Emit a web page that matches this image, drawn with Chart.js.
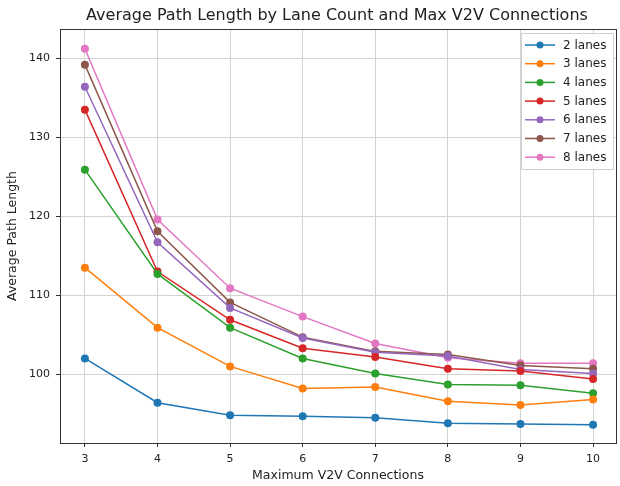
<!DOCTYPE html>
<html>
<head>
<meta charset="utf-8">
<script src="https://cdn.jsdelivr.net/npm/chart.js@4/dist/chart.umd.min.js"></script>
<style>
html,body{margin:0;padding:0;background:#fff;}
#wrap{width:620px;height:486px;position:relative;}
</style>
</head>
<body>
<div id="wrap"><canvas id="c" width="620" height="486"></canvas></div>
<script>
const connections = [3, 4, 5, 6, 7, 8, 9, 10];
const laneLabels = ['2 lanes', '3 lanes', '4 lanes', '5 lanes', '6 lanes', '7 lanes', '8 lanes'];
const lanes2 = [102.0, 96.4, 94.8, 94.7, 94.5, 93.8, 93.7, 93.6];
const lanes3 = [113.5, 105.9, 101.0, 98.2, 98.4, 96.6, 96.1, 96.8];
const lanes4 = [125.9, 112.7, 105.9, 102.0, 100.1, 98.7, 98.6, 97.6];
const lanes5 = [133.5, 113.0, 106.9, 103.3, 102.2, 100.7, 100.4, 99.4];
const lanes6 = [136.4, 116.7, 108.4, 104.6, 102.8, 102.3, 100.6, 100.1];
const lanes7 = [139.2, 118.1, 109.1, 104.7, 102.9, 102.5, 101.1, 100.7];
const lanes8 = [141.2, 119.6, 110.9, 107.3, 103.9, 102.1, 101.4, 101.4];
const yTicks = [100, 110, 120, 130, 140];
const colors = ['#1f77b4', '#ff7f0e', '#2ca02c', '#d62728', '#9467bd', '#8c564b', '#e377c2'];
const seriesValues = [lanes2, lanes3, lanes4, lanes5, lanes6, lanes7, lanes8];

const FONT = "'DejaVu Sans', sans-serif";

const datasets = seriesValues.map((vals, i) => ({
  label: laneLabels[i],
  data: vals.map((v, j) => ({x: connections[j], y: v})),
  borderColor: colors[i],
  backgroundColor: colors[i],
  pointBackgroundColor: colors[i],
  pointBorderColor: colors[i],
  borderWidth: 1.5,
  pointRadius: 4,
  pointBorderWidth: 0,
  tension: 0
}));

const framePlugin = {
  id: 'frame',
  afterDraw(chart) {
    const {ctx, chartArea: a} = chart;
    ctx.save();
    // spines
    ctx.strokeStyle = '#333';
    ctx.lineWidth = 1;
    ctx.strokeRect(Math.round(a.left) + 0.5, Math.round(a.top) + 0.5, Math.round(a.right - a.left), Math.round(a.bottom - a.top));
    // title
    ctx.fillStyle = '#222';
    ctx.font = "16px " + FONT;
    ctx.textAlign = 'center';
    ctx.textBaseline = 'middle';
    ctx.fillText('Average Path Length by Lane Count and Max V2V Connections', 337, 16);
    // legend
    const bx = 521, by = 33, bw = 92, bh = 136;
    ctx.fillStyle = 'rgba(255,255,255,0.85)';
    ctx.strokeStyle = '#d0d0d0';
    ctx.lineWidth = 1;
    ctx.beginPath();
    ctx.rect(bx + 0.5, by + 0.5, bw, bh);
    ctx.fill();
    ctx.stroke();
    ctx.font = "12px " + FONT;
    ctx.textAlign = 'left';
    ctx.textBaseline = 'middle';
    chart.data.datasets.forEach((ds, i) => {
      const y = 45 + i * 18.7;
      ctx.strokeStyle = ds.borderColor;
      ctx.lineWidth = 1.5;
      ctx.beginPath();
      ctx.moveTo(bx + 4, y);
      ctx.lineTo(bx + 34, y);
      ctx.stroke();
      ctx.fillStyle = ds.borderColor;
      ctx.beginPath();
      ctx.arc(bx + 19, y, 3.5, 0, Math.PI * 2);
      ctx.fill();
      ctx.fillStyle = '#222';
      ctx.fillText(ds.label, bx + 42, y + 0.5);
    });
    ctx.restore();
  }
};

new Chart(document.getElementById('c'), {
  type: 'line',
  data: {datasets},
  options: {
    responsive: false,
    animation: false,
    devicePixelRatio: 1,
    layout: {padding: {left: 0, right: 2, top: 29, bottom: 0}},
    plugins: {legend: {display: false}, title: {display: false}, tooltip: {enabled: false}},
    scales: {
      x: {
        type: 'linear',
        min: 2.657,
        max: 10.316,
        afterBuildTicks(scale) { scale.ticks = connections.map(v => ({value: v})); },
        afterFit(scale) { scale.height = 43; },
        ticks: {color: '#222', font: {family: FONT, size: 11}, padding: 6, maxRotation: 0, autoSkip: false},
        grid: {color: '#d3d3d3', lineWidth: 1, tickLength: 4, tickColor: '#333', drawTicks: true},
        border: {display: false},
        title: {display: true, text: 'Maximum V2V Connections', color: '#222', font: {family: FONT, size: 12.5}, padding: {top: 0, bottom: 3}}
      },
      y: {
        type: 'linear',
        min: 91.30,
        max: 143.71,
        afterBuildTicks(scale) { scale.ticks = yTicks.map(v => ({value: v})); },
        afterFit(scale) { scale.width = 60; },
        ticks: {color: '#222', font: {family: FONT, size: 11}, padding: 6},
        grid: {color: '#d3d3d3', lineWidth: 1, tickLength: 4, tickColor: '#333', drawTicks: true},
        border: {display: false},
        title: {display: true, text: 'Average Path Length', color: '#222', font: {family: FONT, size: 12.5}, padding: {top: 5, bottom: 0}}
      }
    }
  },
  plugins: [framePlugin]
});
</script>
</body>
</html>
